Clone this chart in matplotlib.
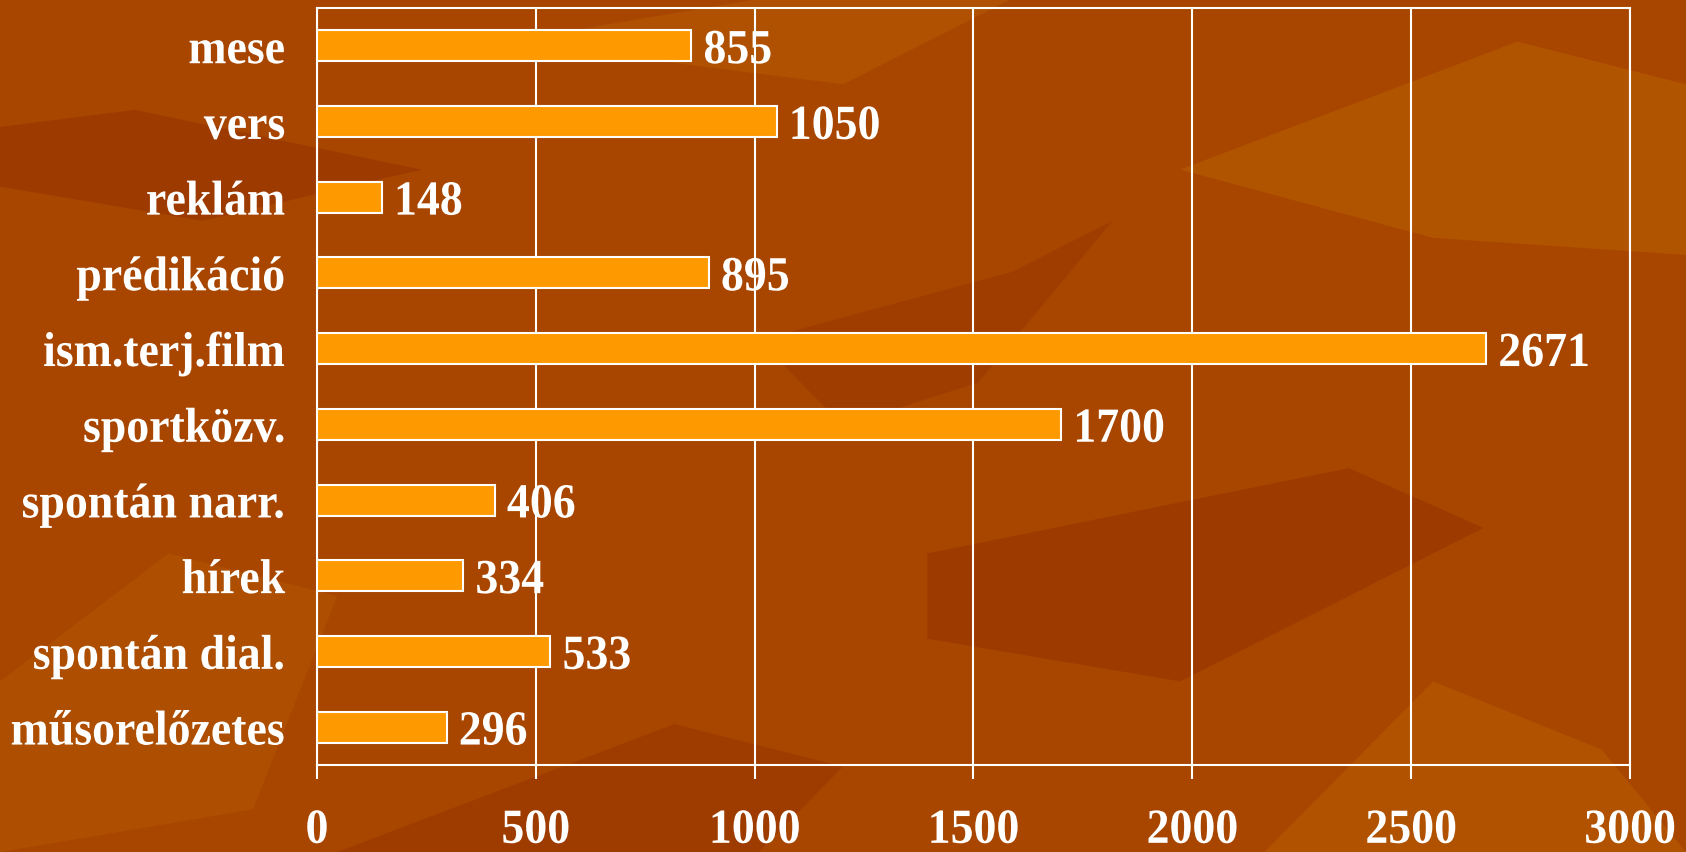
import matplotlib
matplotlib.use("Agg")
import matplotlib.pyplot as plt
from matplotlib.patches import Polygon
from matplotlib.patheffects import AbstractPathEffect
from matplotlib.transforms import Affine2D

categories = ["mese", "vers", "reklám", "prédikáció", "ism.terj.film",
              "sportközv.", "spontán narr.", "hírek", "spontán dial.",
              "műsorelőzetes"]
values = [855, 1050, 148, 895, 2671, 1700, 406, 334, 533, 296]
xticks = [0, 500, 1000, 1500, 2000, 2500, 3000]

bg = "#A84600"
bar_color = "#FF9900"
font = ["Liberation Serif", "DejaVu Serif"]
fsize = 33


class Stretch(AbstractPathEffect):
    # the slide font is a bit taller/narrower than Liberation Serif
    def __init__(self, sy):
        super().__init__()
        self.sy = sy

    def draw_path(self, renderer, gc, tpath, affine, rgbFace=None):
        renderer.draw_path(gc, tpath, Affine2D().scale(1, self.sy) + affine, rgbFace)


tall = [Stretch(1.07)]

fig = plt.figure(figsize=(16.86, 8.53), dpi=100, facecolor=bg)

# rough background texture, drawn in figure coords
shapes = [
    ([(0.0, 0.85), (0.08, 0.87), (0.25, 0.80), (0.12, 0.74), (0.0, 0.78)], "#983600"),
    ([(0.45, 0.60), (0.60, 0.68), (0.66, 0.74), (0.58, 0.55), (0.50, 0.50)], "#9C3A00"),
    ([(0.55, 0.35), (0.80, 0.45), (0.88, 0.38), (0.70, 0.20), (0.55, 0.25)], "#993600"),
    ([(0.70, 0.80), (0.90, 0.95), (1.0, 0.90), (1.0, 0.70), (0.85, 0.72)], "#B65A00"),
    ([(0.0, 0.20), (0.10, 0.35), (0.20, 0.30), (0.15, 0.05), (0.0, 0.0)], "#B05200"),
    ([(0.20, 0.0), (0.40, 0.15), (0.50, 0.10), (0.45, 0.0)], "#9A3800"),
    ([(0.75, 0.0), (0.85, 0.20), (0.95, 0.12), (1.0, 0.0)], "#B45800"),
    ([(0.30, 0.95), (0.45, 1.0), (0.60, 1.0), (0.50, 0.90)], "#B35600"),
]
for pts, c in shapes:
    fig.add_artist(Polygon(pts, closed=True, transform=fig.transFigure,
                           facecolor=c, edgecolor="none", alpha=0.7, zorder=0))

ax = fig.add_axes([0.188, 0.102, 0.7788, 0.8875])
ax.set_facecolor("none")

ypos = list(range(len(categories)))
ax.barh(ypos, values, height=0.41, color=bar_color,
        edgecolor="white", linewidth=1.5, zorder=3)

# value labels, baseline just under the bar bottom
for y, v in zip(ypos, values):
    ax.text(v + 28, y + 0.23, str(v), va="baseline", ha="left", color="white",
            fontsize=fsize, fontweight="bold", family=font, zorder=4,
            path_effects=tall)

# category labels drawn by hand so they share the same baseline
ax.set_yticks(ypos)
ax.set_yticklabels([])
for y, name in zip(ypos, categories):
    ax.text(-0.024, y + 0.23, name, transform=ax.get_yaxis_transform(),
            va="baseline", ha="right", color="white", fontsize=fsize,
            fontweight="bold", family=font, path_effects=tall)

ax.set_xlim(0, 3000)
ax.set_ylim(len(categories) - 0.5, -0.5)
ax.set_xticks(xticks)
ax.set_xticklabels([str(t) for t in xticks])
for lab in ax.get_xticklabels():
    lab.set_family(font)
    lab.set_fontsize(fsize)
    lab.set_fontweight("bold")
    lab.set_color("white")
    lab.set_path_effects(tall)

ax.tick_params(axis="x", direction="out", length=10, width=1.5,
               color="white", pad=23)
ax.tick_params(axis="y", length=0)

ax.grid(axis="x", color="white", linewidth=1.5, zorder=1)
for sp in ax.spines.values():
    sp.set_color("white")
    sp.set_linewidth(1.5)

fig.savefig("out.png", dpi=100, facecolor=bg)
